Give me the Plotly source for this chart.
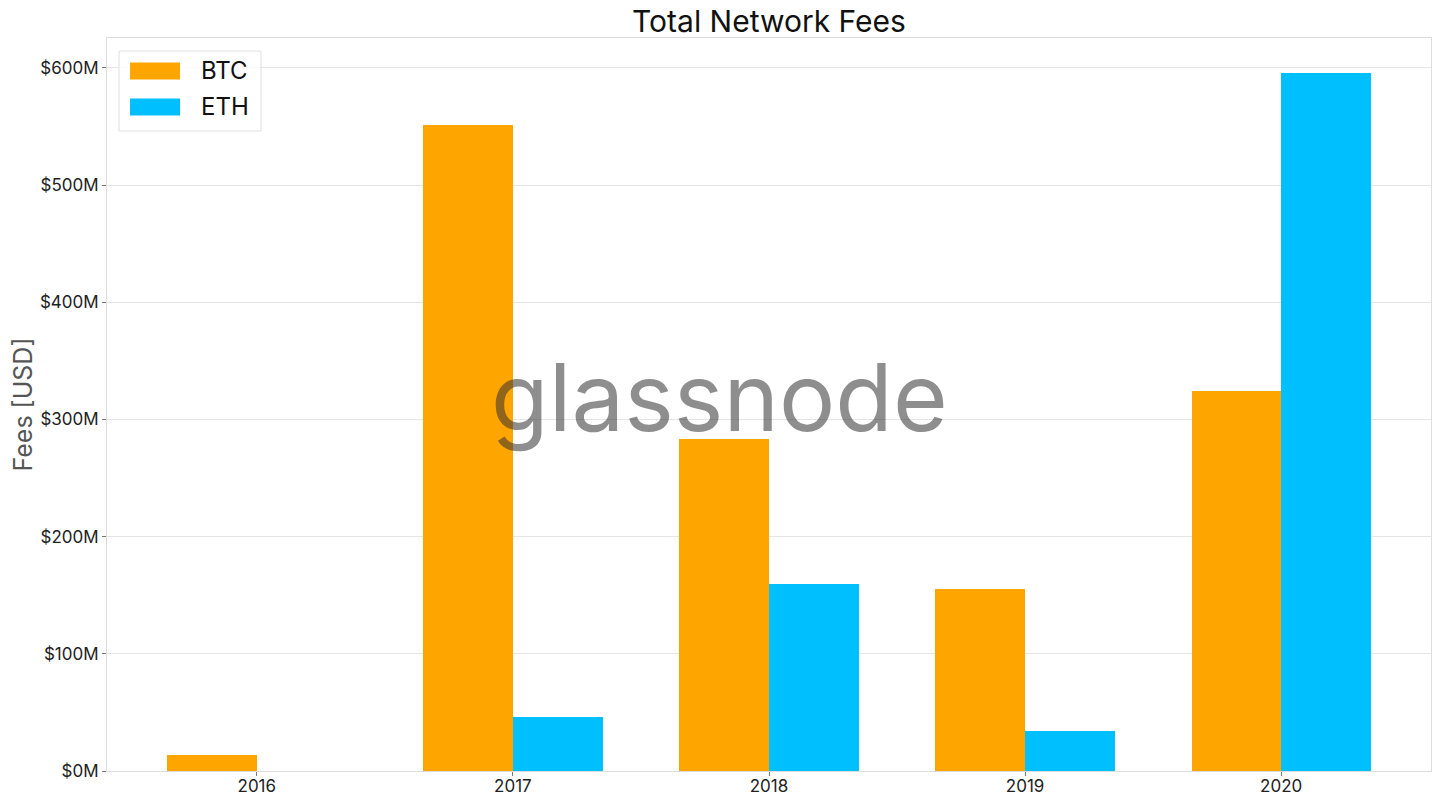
import plotly.graph_objects as go

years = ["2016", "2017", "2018", "2019", "2020"]
btc_fees = [13.7e6, 551e6, 283e6, 155e6, 324e6]
eth_fees = [0.0, 46e6, 160e6, 34e6, 595.5e6]
y_ticks = [0, 100e6, 200e6, 300e6, 400e6, 500e6, 600e6]
y_tick_labels = ["$0M", "$100M", "$200M", "$300M", "$400M", "$500M", "$600M"]

BTC_COLOR = "#FFA500"
ETH_COLOR = "#00BFFF"
FONT = "Inter"

xi = list(range(len(years)))
w = 0.35

fig = go.Figure()
fig.add_trace(go.Bar(x=[i - w / 2 for i in xi], y=btc_fees, width=w, name="BTC",
                     marker=dict(color=BTC_COLOR, line=dict(width=0)), showlegend=False))
fig.add_trace(go.Bar(x=[i + w / 2 for i in xi], y=eth_fees, width=w, name="ETH",
                     marker=dict(color=ETH_COLOR, line=dict(width=0)), showlegend=False))

FIG_W, FIG_H = 1424, 790
fig.update_layout(
    width=FIG_W, height=FIG_H,
    margin=dict(l=99, r=1, t=30, b=27, autoexpand=False),
    paper_bgcolor="white", plot_bgcolor="white",
    font=dict(family=FONT, color="#222222", size=17),
    title=dict(text="Total Network Fees", x=0.5, xref="paper", xanchor="center",
               y=1, yref="paper", yanchor="bottom", pad=dict(b=6),
               font=dict(size=30, color="#111111", family=FONT)),
    bargap=0,
)
fig.update_xaxes(range=[-0.585, 4.585], tickvals=xi, ticktext=years, automargin=False,
                 showgrid=False, zeroline=False, showline=True, linecolor="#DDDDDD",
                 linewidth=1, mirror=True, ticks="outside", ticklen=4, tickcolor="#777777",
                 ticklabelstandoff=-4,
                 tickfont=dict(size=17, color="#222222"))
fig.update_yaxes(range=[0, 625.5e6], tickvals=y_ticks, ticktext=y_tick_labels, automargin=False,
                 showgrid=True, gridcolor="#E5E5E5", gridwidth=1, zeroline=False,
                 showline=True, linecolor="#DDDDDD", linewidth=1, mirror=True,
                 ticks="outside", ticklen=4, tickcolor="#777777",
                 tickfont=dict(size=17, color="#222222"),
                 title=dict(text="Fees [USD]", font=dict(size=25, color="#555555"), standoff=16))

L, R, T, B = 107, 1431, 38, 771
pw, ph = R - L, B - T

def px(x):
    return (x - L) / pw

def py(y):
    return (B - y) / ph

# watermark
fig.add_annotation(text="glassnode", x=px(719), y=py(397), xref="paper", yref="paper",
                   xanchor="center", yanchor="middle", showarrow=False,
                   font=dict(size=94, color="rgba(50,50,50,0.55)", family=FONT))

# legend (manual, matplotlib style)
fig.add_shape(type="rect", xref="paper", yref="paper", x0=px(119), x1=px(261), y0=py(131), y1=py(51),
              line=dict(color="#E0E0E0", width=1), fillcolor="rgba(255,255,255,0.85)", layer="above")
for name, color, yc in [("BTC", BTC_COLOR, 71), ("ETH", ETH_COLOR, 107)]:
    fig.add_shape(type="rect", xref="paper", yref="paper", x0=px(130), x1=px(180),
                  y0=py(yc + 8.5), y1=py(yc - 8.5), line=dict(width=0), fillcolor=color, layer="above")
    fig.add_annotation(text=name, x=px(199), y=py(yc), xref="paper", yref="paper",
                       xanchor="left", yanchor="middle", showarrow=False,
                       font=dict(size=24, color="#111111", family=FONT))

fig.write_html("out.html")
